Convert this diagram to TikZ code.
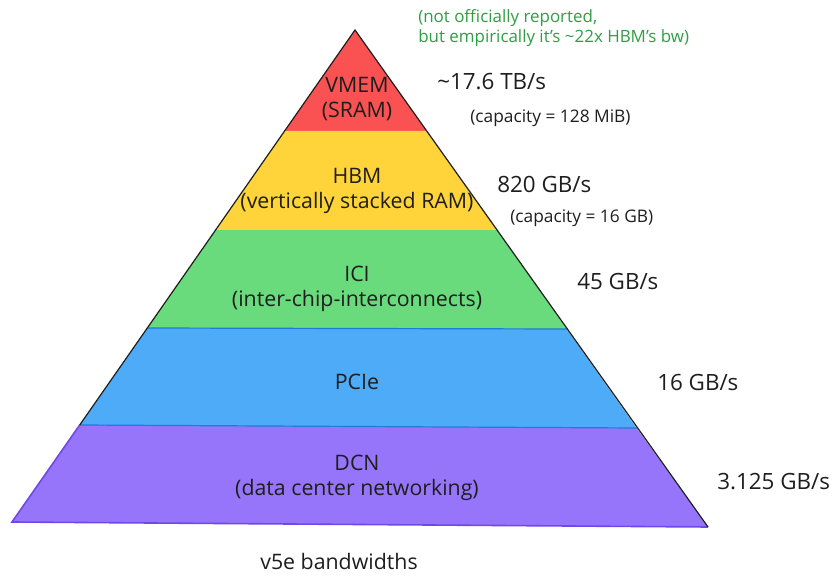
\documentclass[tikz,border=0pt]{standalone}
\usepackage{fontspec}
\setmainfont{Open Sans}
\usetikzlibrary{calc}
\definecolor{cred}{HTML}{FA5252}
\definecolor{cyel}{HTML}{FFD43B}
\definecolor{cgrn}{HTML}{69DB7C}
\definecolor{cblu}{HTML}{4DABF7}
\definecolor{cpur}{HTML}{9775FA}
\definecolor{cbludk}{HTML}{1C7ED6}
\definecolor{cpurdk}{HTML}{7048E8}
\definecolor{cink}{HTML}{1E1E1E}
\definecolor{cnote}{HTML}{2F9E44}
\tikzset{
  layertxt/.style={align=center, font=\fontsize{16}{19}\selectfont, text=cink, inner sep=0pt},
  bwtxt/.style={anchor=west, font=\fontsize{16.8}{18}\selectfont, text=cink, inner sep=0pt},
  captxt/.style={anchor=west, font=\fontsize{13}{14}\selectfont, text=cink, inner sep=0pt},
  notetxt/.style={anchor=west, align=left, font=\fontsize{12.7}{15.5}\selectfont, text=cnote, inner sep=0pt},
}
\begin{document}
\begin{tikzpicture}[x=0.75pt,y=-0.75pt]
\useasboundingbox[fill=white] (0,0) rectangle (840,585);
% key points
\coordinate (A) at (355,30);
\coordinate (BL) at (12,522);
\coordinate (BR) at (708,527);
\coordinate (L1) at (284.6,131); \coordinate (R1) at (426.7,131);
\coordinate (L2) at (215.6,230); \coordinate (R2) at (497.0,230);
\coordinate (L3) at (147.3,328); \coordinate (R3) at (566.6,329);
\coordinate (L4) at (79.7,425);  \coordinate (R4) at (636.5,428);
% layers
\fill[cred] (A) -- (R1) -- (L1) -- cycle;
\fill[cyel] (L1) -- (R1) -- (R2) -- (L2) -- cycle;
\fill[cgrn] (L2) -- (R2) -- (R3) -- (L3) -- cycle;
\fill[cblu] (L3) -- (R3) -- (R4) -- (L4) -- cycle;
\fill[cpur] (L4) -- (R4) -- (BR) -- (BL) -- cycle;
% boundaries
\draw[cbludk, line width=0.9pt] (L3) -- (R3);
\draw[cbludk, line width=0.9pt] (L4) -- (R4);
\draw[cpurdk, line width=1.2pt] (L4) -- (BL) -- (BR);
% outline
\draw[cink, line width=0.9pt] (L4) -- (A) -- (BR);
% layer texts
\node[layertxt] (vmem) at (357,99) {VMEM\\(SRAM)};
\node[layertxt] (hbm) at (357,191) {HBM\\(vertically stacked RAM)};
\node[layertxt] (ici) at (357,289) {ICI\\(inter-chip-interconnects)};
\node[layertxt] (pcie) at (357,382) {PCIe};
\node[layertxt] (dcn) at (357,478) {DCN\\(data center networking)};
% bandwidth labels
\node[bwtxt] (bw1) at (437,82) {\textasciitilde17.6 TB/s};
\node[captxt] (cap1) at (470,118) {(capacity = 128 MiB)};
\node[bwtxt] (bw2) at (497,184) {820 GB/s};
\node[captxt] (cap2) at (510,218) {(capacity = 16 GB)};
\node[bwtxt] (bw3) at (577,281) {45 GB/s};
\node[bwtxt] (bw4) at (657,382) {16 GB/s};
\node[bwtxt] (bw5) at (717,482) {3.125 GB/s};
\node[notetxt] (note) at (418,28) {(not officially reported,\\but empirically it's \textasciitilde22x HBM's bw)};
\node[layertxt] (title) at (339,561) {v5e bandwidths};
\end{tikzpicture}
\end{document}
